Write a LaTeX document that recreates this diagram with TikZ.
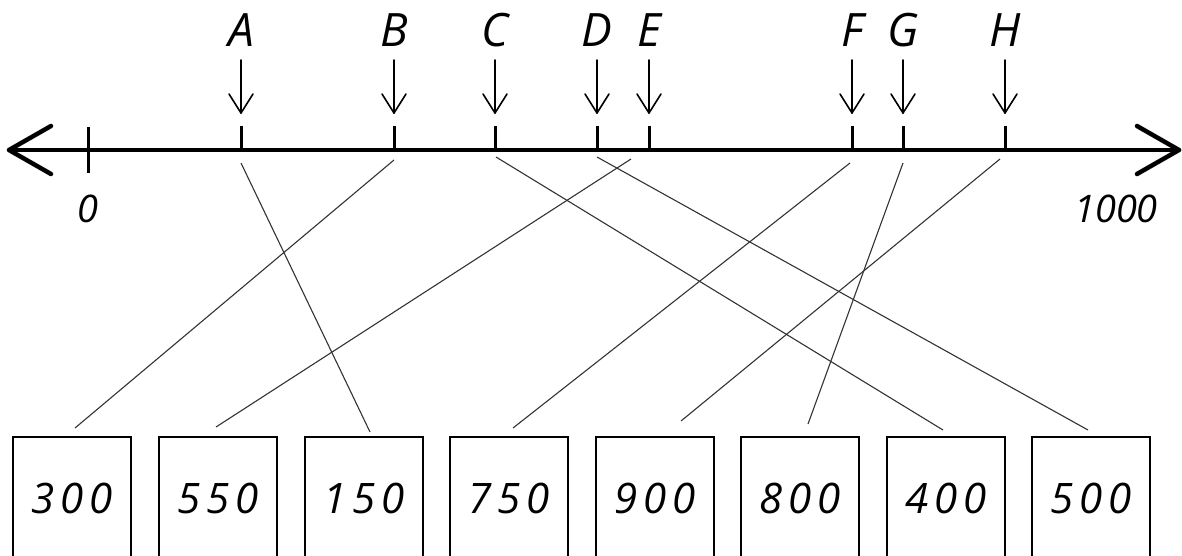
\documentclass[tikz,border=0pt]{standalone}
\usepackage{fontspec}
\setmainfont{Open Sans}
\newfontfamily\lblfont{Open Sans}
\newfontfamily\numfont[LetterSpace=14]{Open Sans}
\begin{document}
\begin{tikzpicture}[x=1pt,y=-1pt,
  axisline/.style={line width=4.5pt,line cap=round,line join=round},
  tickline/.style={line width=3pt},
  downarrow/.style={line width=1.6pt,line cap=round,line join=round},
  conn/.style={line width=1.1pt,draw=black!80},
  numbox/.style={draw,line width=2pt,minimum width=118pt,minimum height=122pt,inner sep=0pt,font=\numfont\itshape\fontsize{42}{42}\selectfont},
  letter/.style={anchor=base,inner sep=0pt,font=\lblfont\itshape\fontsize{46}{46}\selectfont},
  endlbl/.style={anchor=base,inner sep=0pt,font=\lblfont\itshape\fontsize{38}{38}\selectfont}]
\useasboundingbox (0,0) rectangle (1182,556);
% axis
\coordinate (L) at (9,150);
\coordinate (R) at (1179,150);
\draw[axisline] (L) -- (R);
\draw[axisline] (51,126) -- (L) -- (51,174);
\draw[axisline] (1137,126) -- (R) -- (1137,174);
% zero tick
\coordinate (z0) at (88,127);
\coordinate (z1) at (88,173);
\draw[tickline] (z0) -- (z1);
\node[endlbl] (zero) at (88,222) {0};
\node[endlbl] (thou) at (1116,222) {1000};
% letters, ticks, arrows
\foreach \n/\x in {A/241,B/394,C/495,D/597,E/649,F/852,G/903,H/1005}{
  \coordinate (t\n) at (\x,126);
  \coordinate (a\n) at (\x,150);
  \draw[tickline] (t\n) -- (a\n);
  \node[letter] (l\n) at (\x,47) {\n};
  \coordinate (p\n) at (\x,60);
  \coordinate (q\n) at (\x,113);
  \draw[downarrow] (p\n) -- (q\n);
  \draw[downarrow] (\x-12,94) -- (q\n) -- (\x+12,94);
}
% boxes
\node[numbox] (b300) at (72,498) {300};
\node[numbox] (b550) at (218,498) {550};
\node[numbox] (b150) at (364,498) {150};
\node[numbox] (b750) at (509,498) {750};
\node[numbox] (b900) at (655,498) {900};
\node[numbox] (b800) at (800,498) {800};
\node[numbox] (b400) at (946,498) {400};
\node[numbox] (b500) at (1091,498) {500};
% connector ends
\coordinate (sA) at (241,163); \coordinate (e150) at (370,432);
\coordinate (sB) at (394,160); \coordinate (e300) at (75,428);
\coordinate (sC) at (496,157); \coordinate (e400) at (943,430);
\coordinate (sD) at (597,157); \coordinate (e500) at (1088,430);
\coordinate (sE) at (631,159); \coordinate (e550) at (216,427);
\coordinate (sF) at (850,163); \coordinate (e750) at (513,428);
\coordinate (sG) at (903,163); \coordinate (e800) at (808,424);
\coordinate (sH) at (1000,159); \coordinate (e900) at (681,421);
\draw[conn] (sA) -- (e150);
\draw[conn] (sB) -- (e300);
\draw[conn] (sC) -- (e400);
\draw[conn] (sD) -- (e500);
\draw[conn] (sE) -- (e550);
\draw[conn] (sF) -- (e750);
\draw[conn] (sG) -- (e800);
\draw[conn] (sH) -- (e900);
\end{tikzpicture}
\end{document}
